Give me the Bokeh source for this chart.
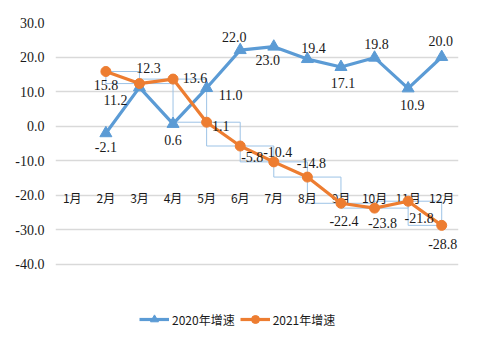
from bokeh.plotting import figure
from bokeh.models import ColumnDataSource, Legend, LegendItem, FixedTicker, NumeralTickFormatter
from bokeh.core.properties import value
from bokeh.embed import file_html
from bokeh.resources import INLINE

# ---- data ----
months = ["1月", "2月", "3月", "4月", "5月", "6月", "7月", "8月", "9月", "10月", "11月", "12月"]
data_months = ["2月", "3月", "4月", "5月", "6月", "7月", "8月", "9月", "10月", "11月", "12月"]
growth_2020 = [-2.1, 11.2, 0.6, 11.0, 22.0, 23.0, 19.4, 17.1, 19.8, 10.9, 20.0]
growth_2021 = [15.8, 12.3, 13.6, 1.1, -5.8, -10.4, -14.8, -22.4, -23.8, -21.8, -28.8]
y_ticks = [30, 20, 10, 0, -10, -20, -30, -40]
axis_cross = -20
series_names = ["2020年增速", "2021年增速"]

# ---- label placement (screen pixel offsets, style only) ----
off_2020_x = [0, -24, 0, 24, -6, -6, 6, 2, 2, 4, -1]
off_2020_y = [14, 13, 16, 7, -13, 13, -11, 16, -14, 17, -16]
off_2021_x = [0, 9, 22, 14, 12, 4, 4, 3, 8, 11, 1]
off_2021_y = [14, -16, -1, 4, 11, -10, -14, 18, 15, 17, 19]

BLUE = "#5B9BD5"
ORANGE = "#ED7D31"
BOX = "#9DC3E6"
TXT = "#1a1a1a"

# frame extends below the last gridline to leave room for the legend
p = figure(x_range=months, y_range=(-62.75, 30), width=477, height=352,
           output_backend="svg", toolbar_location=None,
           min_border_left=55, min_border_right=19, min_border_top=22, min_border_bottom=10)
p.outline_line_color = None
p.background_fill_color = "white"
p.border_fill_color = "white"

# grid
p.xgrid.visible = False
p.ygrid.ticker = FixedTicker(ticks=y_ticks)
p.ygrid.grid_line_color = "#d9d9d9"
p.ygrid.grid_line_width = 1.5

# y axis
p.yaxis.ticker = FixedTicker(ticks=y_ticks)
p.yaxis.formatter = NumeralTickFormatter(format="0.0")
p.yaxis.axis_line_color = None
p.yaxis.major_tick_line_color = None
p.yaxis.minor_tick_line_color = None
p.yaxis.major_tick_out = 0
p.yaxis.major_tick_in = 0
p.yaxis.major_label_standoff = 11
p.yaxis.major_label_text_font = "Liberation Serif"
p.yaxis.major_label_text_font_size = "14px"
p.yaxis.major_label_text_color = TXT

# x axis hidden; category labels drawn at the crossing value
p.xaxis.visible = False

# leader boxes between consecutive 2021 points
box_src = ColumnDataSource(dict(
    left=data_months[:-1], right=data_months[1:],
    top=[max(a, b) for a, b in zip(growth_2021[:-1], growth_2021[1:])],
    bottom=[min(a, b) for a, b in zip(growth_2021[:-1], growth_2021[1:])],
))
p.quad(left="left", right="right", top="top", bottom="bottom", source=box_src,
       fill_color=None, line_color=BOX, line_width=1)

cat_src = ColumnDataSource(dict(x=months, y=[axis_cross] * len(months), t=months))
p.text("x", "y", text="t", source=cat_src, y_offset=2,
       text_font=value("Noto Sans CJK SC"), text_font_size="12px",
       text_align="center", text_baseline="middle", text_color=TXT)

src20 = ColumnDataSource(dict(x=data_months, y=growth_2020,
                              t=[f"{v:.1f}" for v in growth_2020],
                              dx=off_2020_x, dy=off_2020_y))
src21 = ColumnDataSource(dict(x=data_months, y=growth_2021,
                              t=[f"{v:.1f}" for v in growth_2021],
                              dx=off_2021_x, dy=off_2021_y))

l20 = p.line("x", "y", source=src20, line_color=BLUE, line_width=3.2)
m20 = p.scatter("x", "y", source=src20, marker="triangle", size=12,
                fill_color=BLUE, line_color=BLUE)
l21 = p.line("x", "y", source=src21, line_color=ORANGE, line_width=3.2)
m21 = p.scatter("x", "y", source=src21, marker="circle", size=10,
                fill_color=ORANGE, line_color=ORANGE)

for src in (src20, src21):
    p.text("x", "y", text="t", source=src, x_offset="dx", y_offset="dy",
           text_font=value("Liberation Serif"), text_font_size="14px",
           text_align="center", text_baseline="middle", text_color=TXT)

legend = Legend(items=[LegendItem(label=series_names[0], renderers=[l20, m20]),
                       LegendItem(label=series_names[1], renderers=[l21, m21])],
                orientation="horizontal", location=(84, 13))
legend.label_text_font = "Noto Sans CJK SC"
legend.label_text_font_size = "12px"
legend.label_text_color = TXT
legend.glyph_width = 30
legend.label_standoff = 3
legend.spacing = 5
legend.padding = 0
legend.margin = 0
legend.border_line_color = None
legend.background_fill_alpha = 0
p.add_layout(legend)

open("out.html", "w").write(file_html(p, INLINE))
